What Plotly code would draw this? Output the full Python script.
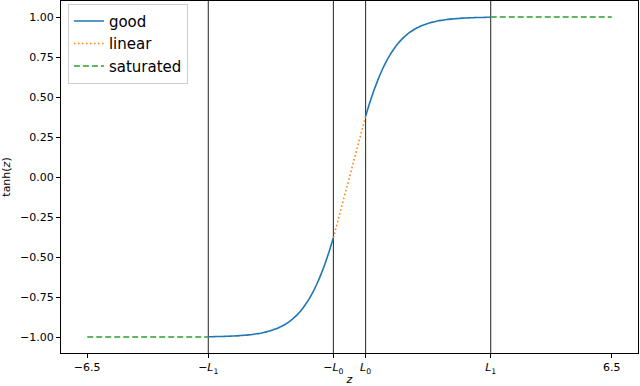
import plotly.graph_objects as go

# Thresholds
L0 = 0.4
L1 = 3.5
Z_MIN, Z_MAX = -6.5, 6.5

# "good" region samples
z_good_pos = [0.4, 0.5, 0.6, 0.7, 0.8, 0.9, 1.0, 1.1, 1.2, 1.3, 1.4, 1.5, 1.6, 1.7,
              1.8, 1.9, 2.0, 2.1, 2.2, 2.3, 2.4, 2.5, 2.6, 2.7, 2.8, 2.9, 3.0, 3.1,
              3.2, 3.3, 3.4, 3.5]
y_good_pos = [0.380, 0.462, 0.537, 0.604, 0.664, 0.716, 0.762, 0.800, 0.834, 0.862,
              0.885, 0.905, 0.922, 0.935, 0.947, 0.956, 0.964, 0.970, 0.976, 0.980,
              0.984, 0.987, 0.989, 0.991, 0.993, 0.994, 0.995, 0.996, 0.997, 0.997,
              0.998, 0.998]
z_good_neg = [-3.5, -3.4, -3.3, -3.2, -3.1, -3.0, -2.9, -2.8, -2.7, -2.6, -2.5, -2.4,
              -2.3, -2.2, -2.1, -2.0, -1.9, -1.8, -1.7, -1.6, -1.5, -1.4, -1.3, -1.2,
              -1.1, -1.0, -0.9, -0.8, -0.7, -0.6, -0.5, -0.4]
y_good_neg = [-0.998, -0.998, -0.997, -0.997, -0.996, -0.995, -0.994, -0.993, -0.991,
              -0.989, -0.987, -0.984, -0.980, -0.976, -0.970, -0.964, -0.956, -0.947,
              -0.935, -0.922, -0.905, -0.885, -0.862, -0.834, -0.800, -0.762, -0.716,
              -0.664, -0.604, -0.537, -0.462, -0.380]

# "linear" region
z_linear = [-0.4, 0.4]
y_linear = [-0.380, 0.380]

# "saturated" regions
z_sat_neg = [-6.5, -3.5]
y_sat_neg = [-1.0, -1.0]
z_sat_pos = [3.5, 6.5]
y_sat_pos = [1.0, 1.0]

tick_vals = [Z_MIN, -L1, -L0, L0, L1, Z_MAX]
tick_text = ["\u22126.5", "\u2212<i>L</i><sub>1</sub>", "\u2212<i>L</i><sub>0</sub>",
             "<i>L</i><sub>0</sub>", "<i>L</i><sub>1</sub>", "6.5"]
y_ticks = [-1.0, -0.75, -0.5, -0.25, 0.0, 0.25, 0.5, 0.75, 1.0]
y_tick_text = ["\u22121.00", "\u22120.75", "\u22120.50", "\u22120.25", "0.00",
               "0.25", "0.50", "0.75", "1.00"]

fig = go.Figure()

fig.add_trace(go.Scatter(
    x=z_good_neg + [None] + z_good_pos,
    y=y_good_neg + [None] + y_good_pos,
    mode="lines", name="good",
    line=dict(color="#1f77b4", width=1.6, shape="spline", smoothing=1.0)))
fig.add_trace(go.Scatter(
    x=z_linear, y=y_linear, mode="lines", name="linear",
    line=dict(color="#ff7f0e", width=1.6, dash="1.5px,2.5px")))
fig.add_trace(go.Scatter(
    x=z_sat_neg + [None] + z_sat_pos,
    y=y_sat_neg + [None] + y_sat_pos,
    mode="lines", name="saturated",
    line=dict(color="#2ca02c", width=1.6, dash="6px,3px")))

for xv in [-L1, -L0, L0, L1]:
    fig.add_vline(x=xv, line=dict(color="#222222", width=1), layer="below")

fig.update_layout(
    width=640, height=386,
    margin=dict(l=61, r=2, t=1, b=33, autoexpand=False),
    plot_bgcolor="white", paper_bgcolor="white",
    font=dict(family="DejaVu Sans", size=11, color="black"),
    showlegend=True,
    legend=dict(x=0.012, y=0.992, xanchor="left", yanchor="top",
                bgcolor="rgba(255,255,255,0.85)", bordercolor="#cccccc",
                borderwidth=1, font=dict(size=15), tracegroupgap=0,
                itemwidth=30),
)
fig.update_xaxes(
    range=[-7.15, 7.15], tickmode="array", tickvals=tick_vals, ticktext=tick_text,
    showgrid=False, zeroline=False, showline=True, linecolor="black", linewidth=1,
    mirror=True, ticks="outside", ticklen=4, tickcolor="black", automargin=False,
    title=dict(text="<i>z</i>", standoff=0, font=dict(size=11)),
)
fig.update_yaxes(
    range=[-1.1, 1.1], tickmode="array", tickvals=y_ticks, ticktext=y_tick_text,
    showgrid=False, zeroline=False, showline=True, linecolor="black", linewidth=1,
    mirror=True, ticks="outside", ticklen=4, tickcolor="black", automargin=False,
    title=dict(text="tanh(<i>z</i>)", standoff=8, font=dict(size=11)),
)

fig.write_html("out.html", config={"displayModeBar": False},
               post_script="document.body.style.margin='0';")
